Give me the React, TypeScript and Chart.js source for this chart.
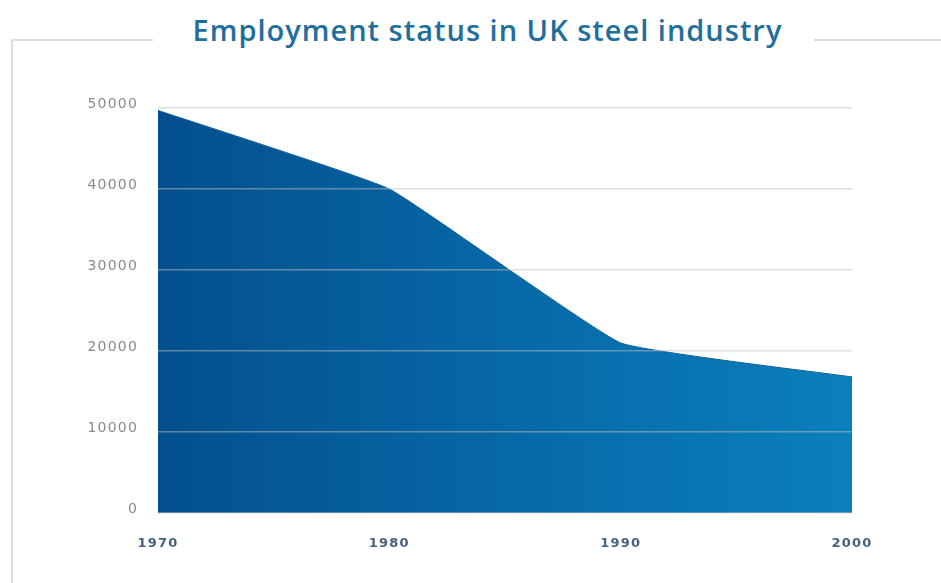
import React, { useEffect, useRef } from "react";
import { Chart, registerables } from "chart.js";

Chart.register(...registerables);

const TITLE = "Employment status in UK steel industry";
const years = ["1970", "1980", "1990", "2000"];
const employees = [49700, 40000, 21000, 16800];
const yTicks = [0, 10000, 20000, 30000, 40000, 50000];

const spacingPlugin = {
  id: "letterSpacing",
  beforeDraw(chart: any) {
    (chart.ctx as any).letterSpacing = "1.2px";
  },
  afterDraw(chart: any) {
    (chart.ctx as any).letterSpacing = "0px";
  },
};

export default function App() {
  const ref = useRef<HTMLCanvasElement | null>(null);

  useEffect(() => {
    document.body.style.margin = "0";
    const ctx = ref.current!.getContext("2d")!;
    const chart = new Chart(ctx, {
      type: "line",
      plugins: [spacingPlugin],
      data: {
        labels: years,
        datasets: [
          {
            data: employees,
            fill: "origin",
            tension: 0.1,
            pointRadius: 0,
            borderWidth: 1,
            borderColor: "#0a5b98",
            backgroundColor: (c: any) => {
              const area = c.chart.chartArea;
              if (!area) return "#0868a6";
              const g = c.chart.ctx.createLinearGradient(area.left, 0, area.right, 0);
              g.addColorStop(0, "#044f8d");
              g.addColorStop(0.5, "#0768a7");
              g.addColorStop(1, "#0a80bc");
              return g;
            },
          },
        ],
      },
      options: {
        animation: false,
        responsive: false,
        maintainAspectRatio: false,
        layout: { padding: { top: 108, right: 89, bottom: 0, left: 0 } },
        plugins: { legend: { display: false }, tooltip: { enabled: false }, title: { display: false } },
        scales: {
          x: {
            offset: false,
            grid: { display: false, drawTicks: false },
            border: { display: false },
            afterFit: (s: any) => {
              s.height = 70;
            },
            ticks: {
              padding: 23,
              color: "#46617f",
              font: { family: "DejaVu Sans", size: 13, weight: "bold" },
              maxRotation: 0,
            },
          },
          y: {
            min: 0,
            max: 50000,
            afterFit: (s: any) => {
              s.width = 158;
            },
            afterBuildTicks: (s: any) => {
              s.ticks = yTicks.map((v) => ({ value: v }));
            },
            grid: { color: "rgba(190,190,190,0.5)", z: 1, drawTicks: false, lineWidth: 1.5 },
            border: { display: false },
            ticks: {
              padding: 20,
              labelOffset: -4,
              color: "#8a8a8a",
              font: { family: "DejaVu Sans", size: 14 },
              callback: (v: any) => String(v),
            },
          },
        },
      },
    });
    return () => chart.destroy();
  }, []);

  return (
    <div style={{ position: "fixed", left: 0, top: 0, width: 941, height: 583, overflow: "hidden", background: "#fff" }}>
      <div
        style={{
          position: "absolute",
          left: 11,
          top: 39,
          width: 1000,
          height: 700,
          borderLeft: "2px solid #dcdcdc",
          borderTop: "2px solid #dcdcdc",
        }}
      />
      <div
        style={{
          position: "absolute",
          top: 9,
          left: 0,
          width: 941,
          paddingLeft: 26,
          boxSizing: "border-box",
          textAlign: "center",
        }}
      >
        <span
          style={{
            display: "inline-block",
            background: "#fff",
            padding: "0 32px 0 40px",
            fontFamily: "'Open Sans', 'Noto Sans', sans-serif",
            fontWeight: 600,
            fontSize: 29,
            letterSpacing: "1px",
            lineHeight: "42px",
            color: "#1f6e9c",
          }}
        >
          {TITLE}
        </span>
      </div>
      <canvas ref={ref} width={941} height={583} style={{ position: "absolute", left: 0, top: 0 }} />
    </div>
  );
}
